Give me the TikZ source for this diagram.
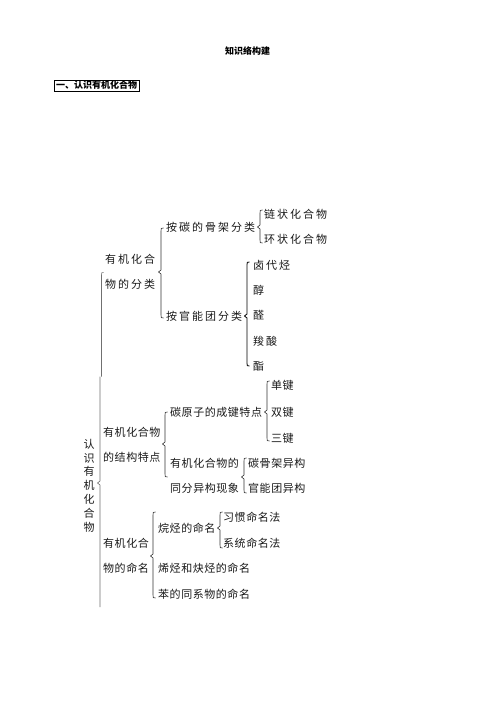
\documentclass[tikz,border=0pt]{standalone}
\usepackage{fontspec}
\setmainfont{Noto Sans CJK SC}
\definecolor{txt}{HTML}{1A1A1A}
\definecolor{brc}{HTML}{333333}
\definecolor{mainbrc}{HTML}{707070}
\tikzset{
  wide/.style={anchor=west, inner sep=0, text=txt, align=left,
    font=\fontsize{11}{25}\selectfont\addfontfeatures{LetterSpace=18}},
  narrow/.style={anchor=west, inner sep=0, text=txt, align=left,
    font=\fontsize{11}{25}\selectfont\addfontfeatures{LetterSpace=5}},
  bracestyle/.style={draw=brc, line width=0.6pt, line join=round},
  headfont/.style={font=\bfseries\fontsize{9}{9}\selectfont, text=black}
}
\newcommand\wbrace[5][]{%
  \draw[bracestyle,#1] ({#2+2.5},#3) .. controls (#2,#3) .. ({#2},{#3+3})
    -- ({#2},{#4-2}) -- ({#2-2.5},#4) -- ({#2},{#4+2})
    -- ({#2},{#5-3}) .. controls (#2,#5) .. ({#2+2.5},#5);}
\begin{document}
\begin{tikzpicture}[x=1pt,y=-1pt]
\useasboundingbox[fill=white] (0,0) rectangle (496,702);
% headings
\node[headfont, inner sep=0] (title) at (247.5,51) {知识络构建};
\node[headfont, draw, line width=0.7pt, inner xsep=1.8pt, inner ysep=1.2pt, anchor=west] (sec) at (54,85.5) {一、认识有机化合物};
% main label and its brace
\node[inner sep=0, text=txt, align=center, font=\fontsize{11}{13.8}\selectfont] (root) at (89,485.5) {认\\识\\有\\机\\化\\合\\物};
\draw[bracestyle, draw=mainbrc] (103.5,272.5) .. controls (101.5,272.5) .. (101.5,275) -- (101.5,376.5);
\draw[bracestyle, draw=mainbrc] (100,376.5) -- (100,481) -- (97.5,483) -- (100,485) -- (100,607);
% section 1: classification
\node[wide] (cls) at (105,271.5) {有机化合\\物的分类};
\wbrace{161}{228}{272}{318}
\node[wide] (skel) at (166,227) {按碳的骨架分类};
\wbrace{260}{210}{227}{243}
\node[wide] (chain) at (264,214) {链状化合物};
\node[wide] (ring) at (264,239) {环状化合物};
\node[wide] (func) at (166,316) {按官能团分类};
\wbrace[line width=0.8pt, draw=black]{247}{262}{316}{366}
\node[wide] (d1) at (253,265) {卤代烃};
\node[wide] (d2) at (253,290) {醇};
\node[wide] (d3) at (253,315) {醛};
\node[wide] (d4) at (253,341) {羧酸};
\node[wide] (d5) at (253,366) {酯};
% section 2: structure
\node[narrow] (str) at (103,444.5) {有机化合物\\的结构特点};
\wbrace{165}{412}{444}{477}
\node[narrow] (bond) at (170,412) {碳原子的成键特点};
\wbrace{267}{381}{412}{441}
\node[narrow] (b1) at (271,385) {单键};
\node[narrow] (b2) at (271,412) {双键};
\node[narrow] (b3) at (271,438) {三键};
\node[narrow] (iso) at (170,475.5) {有机化合物的\\同分异构现象};
\wbrace{244}{458}{477}{493}
\node[narrow] (g1) at (248,463) {碳骨架异构};
\node[narrow] (g2) at (248,488) {官能团异构};
% section 3: naming
\node[narrow] (nam) at (103,555.5) {有机化合\\物的命名};
\wbrace{153}{512}{556}{598}
\node[narrow] (h1) at (158,528) {烷烃的命名};
\wbrace{220}{512}{528}{548}
\node[narrow] (i1) at (223,517) {习惯命名法};
\node[narrow] (i2) at (223,543) {系统命名法};
\node[narrow] (h2) at (158,568) {烯烃和炔烃的命名};
\node[narrow] (h3) at (158,594) {苯的同系物的命名};
\end{tikzpicture}
\end{document}
